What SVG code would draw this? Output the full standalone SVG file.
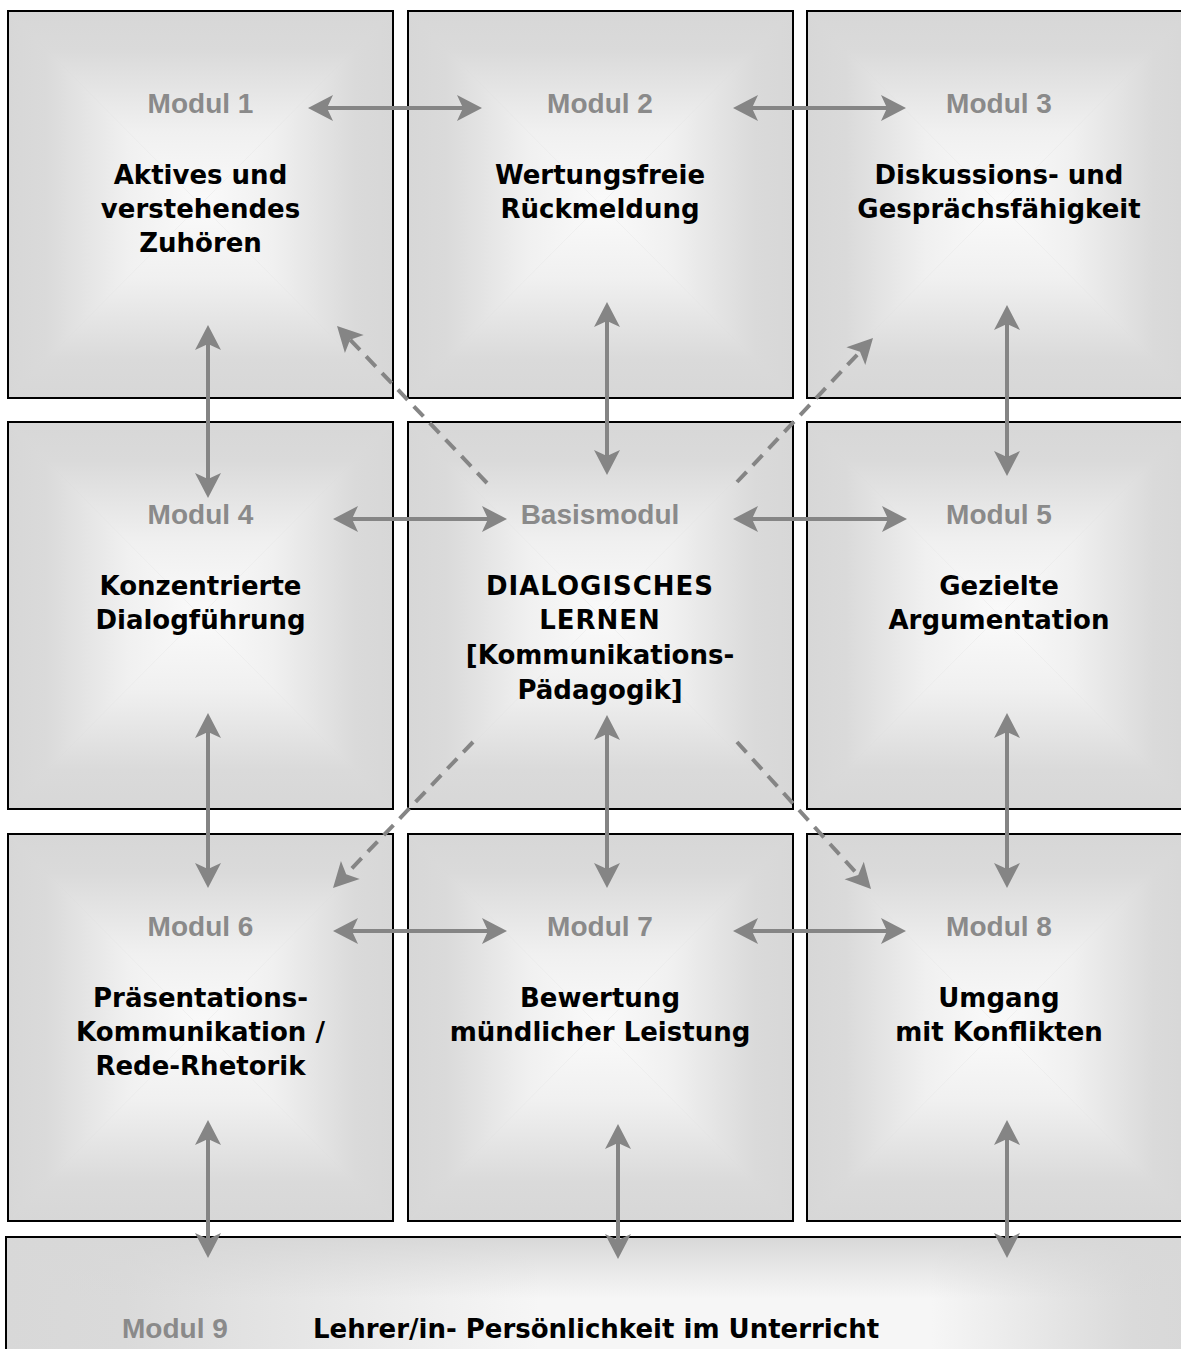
<svg xmlns="http://www.w3.org/2000/svg" xmlns:xlink="http://www.w3.org/1999/xlink" width="1181" height="1349" viewBox="0 0 1181 1349">
<style>
.lbl{font-family:"Liberation Sans",Arial,sans-serif;font-weight:bold;font-size:28px;fill:#8a8a8a;text-anchor:middle}
.main{font-family:"DejaVu Sans",Verdana,sans-serif;font-weight:bold;font-size:26px;fill:#000;text-anchor:middle}
.con{stroke:#858585;stroke-width:4;fill:none}
.dash{stroke-dasharray:14 9}
.frame{fill:none;stroke:#000;stroke-width:2}
</style>
<defs>
<linearGradient id="gT" x1="0" y1="0" x2="0" y2="1"><stop offset="0" stop-color="#d7d7d7"/><stop offset="0.2" stop-color="#dadada"/><stop offset="0.62" stop-color="#f0f0f0"/><stop offset="1" stop-color="#fafafa"/></linearGradient>
<linearGradient id="gB" x1="0" y1="1" x2="0" y2="0"><stop offset="0" stop-color="#d7d7d7"/><stop offset="0.2" stop-color="#dadada"/><stop offset="0.62" stop-color="#f0f0f0"/><stop offset="1" stop-color="#fafafa"/></linearGradient>
<linearGradient id="gL" x1="0" y1="0" x2="1" y2="0"><stop offset="0" stop-color="#d7d7d7"/><stop offset="0.2" stop-color="#dadada"/><stop offset="0.62" stop-color="#f0f0f0"/><stop offset="1" stop-color="#fafafa"/></linearGradient>
<linearGradient id="gR" x1="1" y1="0" x2="0" y2="0"><stop offset="0" stop-color="#d7d7d7"/><stop offset="0.2" stop-color="#dadada"/><stop offset="0.62" stop-color="#f0f0f0"/><stop offset="1" stop-color="#fafafa"/></linearGradient>
<linearGradient id="g9h" x1="0" y1="0" x2="1" y2="0"><stop offset="0" stop-color="#d8d8d8"/><stop offset="0.1" stop-color="#dadada"/><stop offset="0.45" stop-color="#f6f6f6"/><stop offset="0.78" stop-color="#f6f6f6"/><stop offset="0.95" stop-color="#dadada"/><stop offset="1" stop-color="#d8d8d8"/></linearGradient>
<linearGradient id="g9v" x1="0" y1="0" x2="0" y2="1"><stop offset="0" stop-color="#d8d8d8" stop-opacity="1"/><stop offset="0.55" stop-color="#d8d8d8" stop-opacity="0"/><stop offset="1" stop-color="#d8d8d8" stop-opacity="0"/></linearGradient>
<g id="pillow">
<rect width="385" height="387" fill="#d8d8d8"/>
<polygon points="0,0 385,0 192.5,193.5" fill="url(#gT)"/>
<polygon points="0,387 385,387 192.5,193.5" fill="url(#gB)"/>
<polygon points="0,0 0,387 192.5,193.5" fill="url(#gL)"/>
<polygon points="385,0 385,387 192.5,193.5" fill="url(#gR)"/>
<rect width="385" height="387" class="frame"/>
</g>
<marker id="ah" viewBox="-12 -14 28 28" markerWidth="28" markerHeight="28" refX="0" refY="0" orient="auto-start-reverse" markerUnits="userSpaceOnUse">
<path d="M15,0 L-10,-13 L-4,0 L-10,13 Z" fill="#858585"/>
</marker>
</defs>
<rect width="1181" height="1349" fill="#fff"/>

<g id="modul1">
<use xlink:href="#pillow" x="8" y="11"/>
<text class="lbl" x="200.5" y="113">Modul 1</text>
<text class="main" x="200.5" y="184">Aktives und</text>
<text class="main" x="200.5" y="218">verstehendes</text>
<text class="main" x="200.5" y="252">Zuhören</text>
</g>
<g id="modul2">
<use xlink:href="#pillow" x="408" y="11"/>
<text class="lbl" x="600" y="113">Modul 2</text>
<text class="main" x="600" y="184">Wertungsfreie</text>
<text class="main" x="600" y="218">Rückmeldung</text>
</g>
<g id="modul3">
<use xlink:href="#pillow" x="807" y="11"/>
<text class="lbl" x="999" y="113">Modul 3</text>
<text class="main" x="999" y="184">Diskussions- und</text>
<text class="main" x="999" y="218">Gesprächsfähigkeit</text>
</g>
<g id="modul4">
<use xlink:href="#pillow" x="8" y="422"/>
<text class="lbl" x="200.5" y="524">Modul 4</text>
<text class="main" x="200.5" y="595">Konzentrierte</text>
<text class="main" x="200.5" y="629">Dialogführung</text>
</g>
<g id="basismodul">
<use xlink:href="#pillow" x="408" y="422"/>
<text class="lbl" x="600" y="524">Basismodul</text>
<text class="main" x="600" y="595" letter-spacing="1">DIALOGISCHES</text>
<text class="main" x="600" y="629" letter-spacing="1">LERNEN</text>
<text class="main" x="600" y="664">[Kommunikations-</text>
<text class="main" x="600" y="699">Pädagogik]</text>
</g>
<g id="modul5">
<use xlink:href="#pillow" x="807" y="422"/>
<text class="lbl" x="999" y="524">Modul 5</text>
<text class="main" x="999" y="595">Gezielte</text>
<text class="main" x="999" y="629">Argumentation</text>
</g>
<g id="modul6">
<use xlink:href="#pillow" x="8" y="834"/>
<text class="lbl" x="200.5" y="936">Modul 6</text>
<text class="main" x="200.5" y="1007">Präsentations-</text>
<text class="main" x="200.5" y="1041">Kommunikation /</text>
<text class="main" x="200.5" y="1075">Rede-Rhetorik</text>
</g>
<g id="modul7">
<use xlink:href="#pillow" x="408" y="834"/>
<text class="lbl" x="600" y="936">Modul 7</text>
<text class="main" x="600" y="1007">Bewertung</text>
<text class="main" x="600" y="1041">mündlicher Leistung</text>
</g>
<g id="modul8">
<use xlink:href="#pillow" x="807" y="834"/>
<text class="lbl" x="999" y="936">Modul 8</text>
<text class="main" x="999" y="1007">Umgang</text>
<text class="main" x="999" y="1041">mit Konflikten</text>
</g>
<g id="modul9">
<rect x="6" y="1237" width="1186" height="130" fill="url(#g9h)"/>
<rect x="6" y="1237" width="1186" height="112" fill="url(#g9v)"/>
<rect x="6" y="1237" width="1186" height="130" class="frame"/>
<text class="lbl" x="122" y="1338" style="text-anchor:start">Modul 9</text>
<text class="main" x="313" y="1338" style="text-anchor:start">Lehrer/in- Persönlichkeit im Unterricht</text>
</g>

<g id="connectors">
<line class="con" x1="323" y1="108" x2="467" y2="108" marker-start="url(#ah)" marker-end="url(#ah)"/>
<line class="con" x1="748" y1="108" x2="891" y2="108" marker-start="url(#ah)" marker-end="url(#ah)"/>
<line class="con" x1="348" y1="519" x2="492" y2="519" marker-start="url(#ah)" marker-end="url(#ah)"/>
<line class="con" x1="748" y1="519" x2="892" y2="519" marker-start="url(#ah)" marker-end="url(#ah)"/>
<line class="con" x1="348" y1="931" x2="492" y2="931" marker-start="url(#ah)" marker-end="url(#ah)"/>
<line class="con" x1="748" y1="931" x2="891" y2="931" marker-start="url(#ah)" marker-end="url(#ah)"/>
<line class="con" x1="208" y1="340" x2="208" y2="483" marker-start="url(#ah)" marker-end="url(#ah)"/>
<line class="con" x1="208" y1="728" x2="208" y2="873" marker-start="url(#ah)" marker-end="url(#ah)"/>
<line class="con" x1="208" y1="1135" x2="208" y2="1243" marker-start="url(#ah)" marker-end="url(#ah)"/>
<line class="con" x1="607" y1="317" x2="607" y2="460" marker-start="url(#ah)" marker-end="url(#ah)"/>
<line class="con" x1="607" y1="730" x2="607" y2="873" marker-start="url(#ah)" marker-end="url(#ah)"/>
<line class="con" x1="618" y1="1139" x2="618" y2="1244" marker-start="url(#ah)" marker-end="url(#ah)"/>
<line class="con" x1="1007" y1="320" x2="1007" y2="461" marker-start="url(#ah)" marker-end="url(#ah)"/>
<line class="con" x1="1007" y1="728" x2="1007" y2="873" marker-start="url(#ah)" marker-end="url(#ah)"/>
<line class="con" x1="1007" y1="1135" x2="1007" y2="1243" marker-start="url(#ah)" marker-end="url(#ah)"/>
<line class="con dash" x1="487" y1="483" x2="347.4" y2="336.8" marker-end="url(#ah)"/>
<line class="con dash" x1="737" y1="482" x2="862.7" y2="348.9" marker-end="url(#ah)"/>
<line class="con dash" x1="473" y1="742" x2="343.4" y2="877.2" marker-end="url(#ah)"/>
<line class="con dash" x1="737" y1="742" x2="860.9" y2="877.9" marker-end="url(#ah)"/>
</g>
</svg>
